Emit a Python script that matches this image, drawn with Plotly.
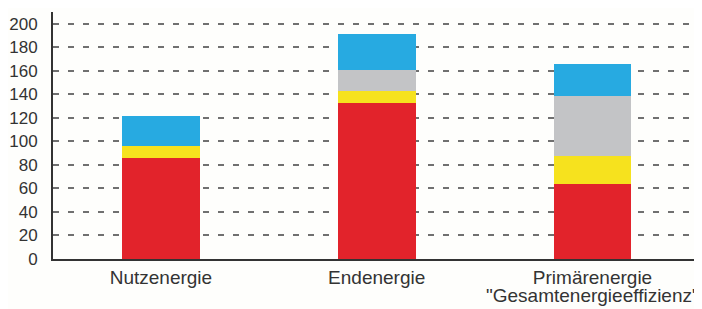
import plotly.graph_objects as go

categories = ["Nutzenergie", "Endenergie", "Primärenergie"]
category_sublabels = ["", "", "\"Gesamtenergieeffizienz\""]
red_vals = [86, 133, 64]
yellow_vals = [10, 9.5, 23.5]
gray_vals = [0, 18, 51]
blue_vals = [26, 30.5, 27.5]
y_ticks = [0, 20, 40, 60, 80, 100, 120, 140, 160, 180, 200]

series = [
    ("rot", red_vals, "#e2232b"),
    ("gelb", yellow_vals, "#f6e21e"),
    ("grau", gray_vals, "#c3c4c6"),
    ("blau", blue_vals, "#27aae1"),
]

FONT = "Liberation Sans, Arial, sans-serif"

fig = go.Figure()
for name, vals, col in series:
    fig.add_trace(go.Bar(x=categories, y=vals, name=name, marker=dict(color=col, line=dict(width=0))))

for cat, sub in zip(categories, category_sublabels):
    if sub:
        fig.add_annotation(
            x=cat, xref="x", y=0, yref="paper", yanchor="top", yshift=-24,
            text=sub, showarrow=False, font=dict(family=FONT, size=19, color="#333333"),
        )

# page body has an 8px margin, so the figure is shifted by 8px right and down
fig.update_layout(
    barmode="stack",
    bargap=0.64,
    width=694, height=301,
    margin=dict(l=45, r=1, t=3.5, b=49.7),
    paper_bgcolor="#fefefc",
    plot_bgcolor="#fefefc",
    showlegend=False,
    font=dict(family=FONT, color="#333333"),
)
fig.update_yaxes(
    range=[0, 210], tickvals=y_ticks, showgrid=True, gridcolor="#707070", gridwidth=1.6,
    griddash="6px,9px", showline=True, linecolor="#333333", linewidth=2,
    ticks="", ticklabelstandoff=10, tickfont=dict(size=17, color="#333333"), zeroline=False,
    automargin=False,
)
fig.update_xaxes(
    showline=True, linecolor="#333333", linewidth=2, ticks="",
    tickfont=dict(size=19, color="#333333"), ticklabelstandoff=0, automargin=False,
)
fig.write_html("out.html")
